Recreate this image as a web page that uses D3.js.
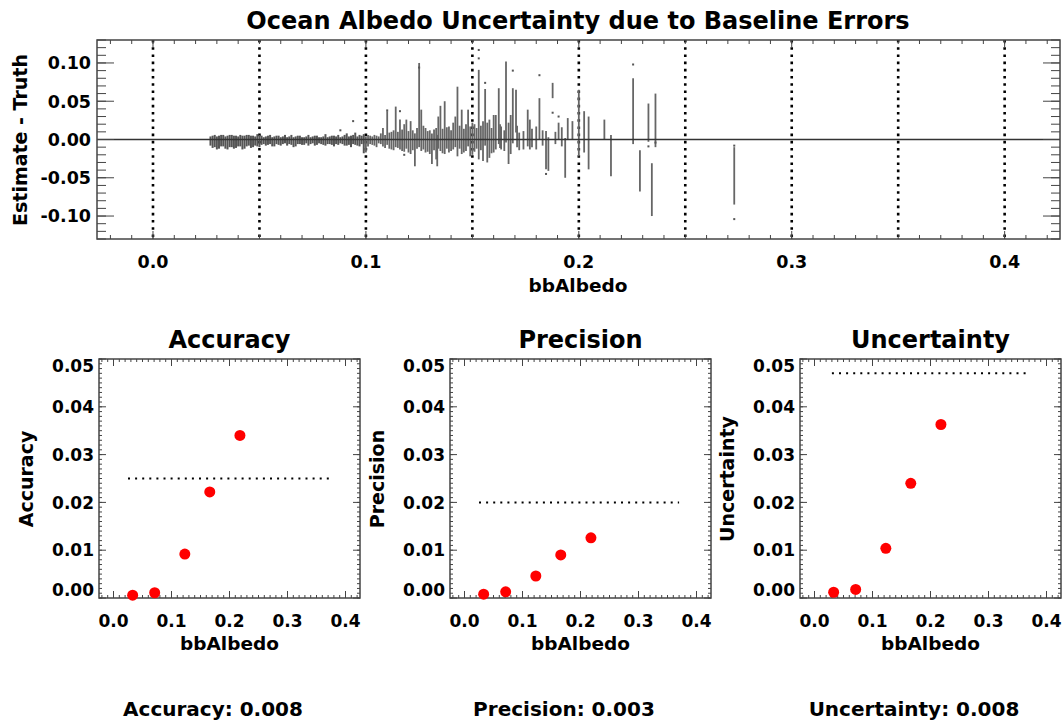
<!DOCTYPE html>
<html>
<head>
<meta charset="utf-8">
<script src="https://cdn.jsdelivr.net/npm/d3@7"></script>
<style>
body { margin: 0; background: #fff; }
text { font-family: "DejaVu Sans", sans-serif; font-weight: bold; fill: #000; }
</style>
</head>
<body>
<svg id="chart" width="1063" height="726"></svg>
<script>
// ---- top panel: estimate - truth, dense band of dark-water samples ----
var bandX = [0.027,0.028,0.029,0.030,0.031,0.032,0.033,0.034,0.035,0.036,0.037,0.038,0.039,0.040,0.041,0.042,0.043,0.044,0.045,0.046,
    0.047,0.048,0.049,0.050,0.051,0.052,0.053,0.054,0.055,0.056,0.057,0.058,0.059,0.060,0.061,0.062,0.063,0.064,0.065,0.066,
    0.067,0.068,0.069,0.070,0.071,0.072,0.073,0.074,0.075,0.076,0.077,0.078,0.079,0.080,0.081,0.082,0.083,0.084,0.085,0.086,
    0.087,0.088,0.089,0.090,0.091,0.092,0.093,0.094,0.095,0.096,0.097,0.098,0.099];
var bandHi = [0.004,0.005,0.006,0.004,0.005,0.006,0.006,0.004,0.005,0.006,0.006,0.005,0.005,0.004,0.006,0.005,0.005,0.006,0.006,0.005,
    0.005,0.004,0.007,0.006,0.005,0.003,0.004,0.005,0.006,0.003,0.004,0.005,0.005,0.003,0.004,0.006,0.003,0.004,0.006,0.003,
    0.004,0.005,0.005,0.003,0.003,0.004,0.006,0.003,0.004,0.005,0.005,0.003,0.003,0.004,0.007,0.003,0.004,0.005,0.005,0.004,
    0.006,0.003,0.004,0.006,0.008,0.004,0.005,0.006,0.009,0.004,0.006,0.005,0.007];
var bandLo = [-0.008,-0.011,-0.010,-0.013,-0.012,-0.009,-0.009,-0.012,-0.013,-0.010,-0.010,-0.012,-0.011,-0.009,-0.009,-0.013,-0.012,-0.009,-0.008,-0.011,
    -0.010,-0.008,-0.009,-0.010,-0.007,-0.006,-0.008,-0.007,-0.006,-0.009,-0.009,-0.006,-0.007,-0.008,-0.006,-0.005,-0.008,-0.006,-0.007,-0.010,
    -0.009,-0.006,-0.006,-0.007,-0.007,-0.005,-0.008,-0.006,-0.005,-0.008,-0.007,-0.005,-0.006,-0.007,-0.008,-0.006,-0.006,-0.007,-0.009,-0.006,
    -0.007,-0.005,-0.006,-0.008,-0.008,-0.007,-0.010,-0.006,-0.007,-0.008,-0.009,-0.006,-0.018];

// ---- top panel: brighter samples, wider spread ----
var spikeX = [0.100,0.101,0.102,0.103,0.104,0.105,0.106,0.107,0.108,0.109,0.110,0.111,0.112,0.113,0.114,0.115,0.116,0.117,0.118,0.119,
    0.120,0.121,0.122,0.123,0.124,0.125,0.126,0.127,0.128,0.129,0.130,0.131,0.132,0.133,0.1335,0.134,0.135,0.136,0.137,0.138,
    0.139,0.140,0.141,0.142,0.143,0.144,0.145,0.146,0.147,0.148,0.149,0.150,0.151,0.152,0.153,0.154,0.155,0.156,0.157,0.158,
    0.159,0.160,0.161,0.1624,0.163,0.1635,0.165,0.1658,0.167,0.168,0.169,0.1705,0.171,0.172,0.174,0.176,0.177,0.178,0.180,0.1815,
    0.183,0.1846,0.1857,0.1877,0.189,0.1905,0.192,0.1936,0.1948,0.197,0.200,0.2025,0.2046,0.212,0.2151,0.2255,0.2287,0.2327,0.2343,0.236,
    0.273];
var spikeLo = [-0.017,-0.009,-0.006,-0.007,-0.008,-0.010,-0.005,-0.006,-0.009,-0.011,-0.007,-0.012,-0.013,-0.014,-0.010,-0.011,-0.013,-0.015,-0.016,-0.012,
    -0.017,-0.019,-0.014,-0.035,-0.012,-0.010,-0.015,-0.013,-0.017,-0.016,-0.019,-0.032,-0.014,-0.026,-0.035,-0.012,-0.015,-0.018,-0.019,-0.012,
    -0.017,-0.015,-0.013,-0.010,-0.022,-0.012,-0.019,-0.017,-0.015,-0.009,-0.022,-0.020,-0.016,-0.012,-0.026,-0.014,-0.028,-0.008,-0.030,-0.024,
    -0.018,-0.017,-0.013,-0.006,-0.011,-0.013,-0.015,-0.004,-0.032,-0.019,-0.005,0.009,-0.010,-0.014,-0.013,-0.009,-0.013,-0.010,-0.013,0.000,
    -0.008,-0.039,-0.041,0.054,-0.006,0.000,-0.009,-0.050,0.000,0.000,-0.022,-0.017,-0.039,0.000,-0.048,-0.006,-0.068,-0.003,-0.100,-0.010,
    -0.085];
var spikeHi = [0.004,0.006,0.005,0.004,0.006,0.005,0.004,0.008,0.015,0.006,0.037,0.009,0.010,0.012,0.043,0.010,0.026,0.013,0.020,0.026,
    0.011,0.024,0.012,0.008,0.015,0.100,0.039,0.018,0.015,0.011,0.012,0.008,0.013,0.015,0.006,0.030,0.044,0.014,0.050,0.016,
    0.017,0.012,0.022,0.030,0.069,0.018,0.039,0.014,0.020,0.039,0.017,0.022,0.020,0.015,0.091,0.018,0.024,0.066,0.022,0.026,
    0.015,0.032,0.032,0.067,0.020,0.017,0.012,0.102,0.022,0.032,0.067,0.065,0.018,0.009,0.011,0.039,0.026,0.014,0.017,0.054,
    0.012,0.011,0.003,0.074,0.010,0.022,0.016,0.002,0.028,0.024,0.065,0.037,0.030,0.026,0.006,0.080,-0.014,0.047,-0.031,0.060,
    -0.010];
var dotX = [0.088,0.094,0.110,0.116,0.118,0.125,0.153,0.153,0.156,0.169,0.1815,0.1846,0.1877,0.1905,0.2255,0.2327,0.236,0.273,0.273];
var dotY = [0.012,0.024,0.038,0.037,-0.020,0.094,0.117,0.106,0.074,0.090,0.084,-0.045,0.035,0.030,0.098,-0.009,-0.004,-0.104,-0.008];
var guideX = [0.0,0.05,0.10,0.15,0.20,0.25,0.30,0.35,0.40];

// ---- bottom panels: binned statistics ----
var binX = [0.033,0.071,0.123,0.166,0.218];
var accuracy = [0.0006,0.0011,0.0092,0.0222,0.0340];
var precision = [0.0008,0.0013,0.0046,0.0090,0.0126];
var uncertainty = [0.0012,0.0018,0.0104,0.0240,0.0363];
var panelNames = ["Accuracy","Precision","Uncertainty"];
var thresholds = [0.025,0.020,0.047];
var thresholdFrom = [0.025,0.025,0.030];
var thresholdTo = [0.372,0.370,0.370];
var summaryText = ["Accuracy: 0.008","Precision: 0.003","Uncertainty: 0.008"];

var svg = d3.select("#chart");
var fmt2 = v => d3.format(".2f")(v).replace("\u2212","-");
var fmt1 = v => d3.format(".1f")(v).replace("\u2212","-");

// tick marks on all four sides of a box
function drawTicks(g, x, y, xs, ys) {
    var xr = x.range(), yr = y.range();
    xs.forEach(function(t) {
        g.selectAll(null).data(t.vals).enter().append("line")
            .attr("x1", d => x(d)).attr("x2", d => x(d))
            .attr("y1", yr[0]).attr("y2", yr[0] - t.len)
            .attr("stroke", "#444").attr("stroke-width", 1);
        g.selectAll(null).data(t.vals).enter().append("line")
            .attr("x1", d => x(d)).attr("x2", d => x(d))
            .attr("y1", yr[1]).attr("y2", yr[1] + t.len)
            .attr("stroke", "#444").attr("stroke-width", 1);
    });
    ys.forEach(function(t) {
        g.selectAll(null).data(t.vals).enter().append("line")
            .attr("y1", d => y(d)).attr("y2", d => y(d))
            .attr("x1", xr[0]).attr("x2", xr[0] + t.len)
            .attr("stroke", "#444").attr("stroke-width", 1);
        g.selectAll(null).data(t.vals).enter().append("line")
            .attr("y1", d => y(d)).attr("y2", d => y(d))
            .attr("x1", xr[1]).attr("x2", xr[1] - t.len)
            .attr("stroke", "#444").attr("stroke-width", 1);
    });
    g.append("rect")
        .attr("x", xr[0]).attr("y", yr[1])
        .attr("width", xr[1] - xr[0]).attr("height", yr[0] - yr[1])
        .attr("fill", "none").attr("stroke", "#444").attr("stroke-width", 1.5);
}

// ---------------- top panel ----------------
var xT = d3.scaleLinear().domain([-0.0263, 0.426]).range([97, 1060]);
var yT = d3.scaleLinear().domain([-0.13, 0.13]).range([239, 40]);
var topG = svg.append("g");

topG.selectAll(".guide").data(guideX).enter().append("line")
    .attr("x1", d => xT(d)).attr("x2", d => xT(d))
    .attr("y1", yT(0.13)).attr("y2", yT(-0.13))
    .attr("stroke", "#000").attr("stroke-width", 2.6)
    .attr("stroke-dasharray", "2.6 4.6");

var band = bandX.map((x, i) => ({x: x, lo: bandLo[i], hi: bandHi[i]}));
topG.selectAll(".band").data(band).enter().append("line")
    .attr("x1", d => xT(d.x)).attr("x2", d => xT(d.x))
    .attr("y1", d => yT(d.lo)).attr("y2", d => yT(d.hi))
    .attr("stroke", "#555").attr("stroke-width", 2);

var spikes = spikeX.map((x, i) => ({x: x, lo: spikeLo[i], hi: spikeHi[i]}));
topG.selectAll(".spike").data(spikes).enter().append("line")
    .attr("x1", d => xT(d.x)).attr("x2", d => xT(d.x))
    .attr("y1", d => yT(d.lo)).attr("y2", d => yT(d.hi))
    .attr("stroke", "#666").attr("stroke-width", 1.8);

topG.selectAll(".dot").data(dotX).enter().append("rect")
    .attr("x", d => xT(d) - 1).attr("y", (d, i) => yT(dotY[i]) - 1)
    .attr("width", 2).attr("height", 2).attr("fill", "#555");

topG.append("line")
    .attr("x1", xT.range()[0]).attr("x2", xT.range()[1])
    .attr("y1", yT(0)).attr("y2", yT(0))
    .attr("stroke", "#333").attr("stroke-width", 1.5);

drawTicks(topG, xT, yT,
    [{vals: xT.ticks(45), len: 4}, {vals: xT.ticks(5), len: 8}],
    [{vals: yT.ticks(26), len: 9}, {vals: yT.ticks(5), len: 17}]);

topG.selectAll(".ylab").data(yT.ticks(5)).enter().append("text")
    .attr("x", 91).attr("y", d => yT(d)).attr("dy", "0.36em")
    .attr("text-anchor", "end").style("font-size", "17.5px")
    .text(fmt2);
topG.selectAll(".xlab").data(xT.ticks(5)).enter().append("text")
    .attr("x", d => xT(d)).attr("y", 268)
    .attr("text-anchor", "middle").style("font-size", "17.5px")
    .text(fmt1);
topG.append("text").attr("x", 578).attr("y", 292).attr("text-anchor", "middle")
    .style("font-size", "18.5px").text("bbAlbedo");
topG.append("text").attr("transform", "translate(27,140) rotate(-90)")
    .attr("text-anchor", "middle").style("font-size", "19px").text("Estimate - Truth");
topG.append("text").attr("x", 578).attr("y", 29).attr("text-anchor", "middle")
    .style("font-size", "24px").text("Ocean Albedo Uncertainty due to Baseline Errors");

// ---------------- bottom panels ----------------
var series = [accuracy, precision, uncertainty];
var panelLeft = [99, 450, 800];

panelNames.forEach(function(name, k) {
    var x0 = panelLeft[k];
    var x = d3.scaleLinear().domain([-0.025, 0.425]).range([x0, x0 + 261]);
    var y = d3.scaleLinear().domain([0, 0.05]).range([598, 359]);
    var g = svg.append("g");

    g.append("line")
        .attr("x1", x(thresholdFrom[k])).attr("x2", x(thresholdTo[k]))
        .attr("y1", y(thresholds[k])).attr("y2", y(thresholds[k]))
        .attr("stroke", "#000").attr("stroke-width", 2)
        .attr("stroke-dasharray", "2 5.1");

    drawTicks(g, x, y,
        [{vals: x.ticks(45), len: 3}, {vals: x.ticks(5), len: 7}],
        [{vals: y.ticks(50), len: 3}, {vals: y.ticks(5), len: 7}]);

    g.selectAll(".pt").data(binX).enter().append("circle")
        .attr("cx", d => x(d)).attr("cy", (d, i) => y(series[k][i]))
        .attr("r", 5.5).attr("fill", "#ff0000");

    g.selectAll(".ylab").data(y.ticks(5)).enter().append("text")
        .attr("x", x0 - 5)
        .attr("y", d => Math.max(366, Math.min(590, y(d))))
        .attr("dy", "0.36em").attr("text-anchor", "end")
        .style("font-size", "17px").text(fmt2);
    g.selectAll(".xlab").data(x.ticks(5)).enter().append("text")
        .attr("x", d => x(d)).attr("y", 627)
        .attr("text-anchor", "middle").style("font-size", "17px").text(fmt1);

    g.append("text").attr("x", x0 + 130.5).attr("y", 650).attr("text-anchor", "middle")
        .style("font-size", "18.5px").text("bbAlbedo");
    g.append("text").attr("transform", "translate(" + (x0 - 66) + ",479) rotate(-90)")
        .attr("text-anchor", "middle").style("font-size", "19px").text(name);
    g.append("text").attr("x", x0 + 130.5).attr("y", 348).attr("text-anchor", "middle")
        .style("font-size", "24px").text(name);
    g.append("text").attr("x", x0 + 114).attr("y", 716).attr("text-anchor", "middle")
        .style("font-size", "20px").text(summaryText[k]);
});
</script>
</body>
</html>
